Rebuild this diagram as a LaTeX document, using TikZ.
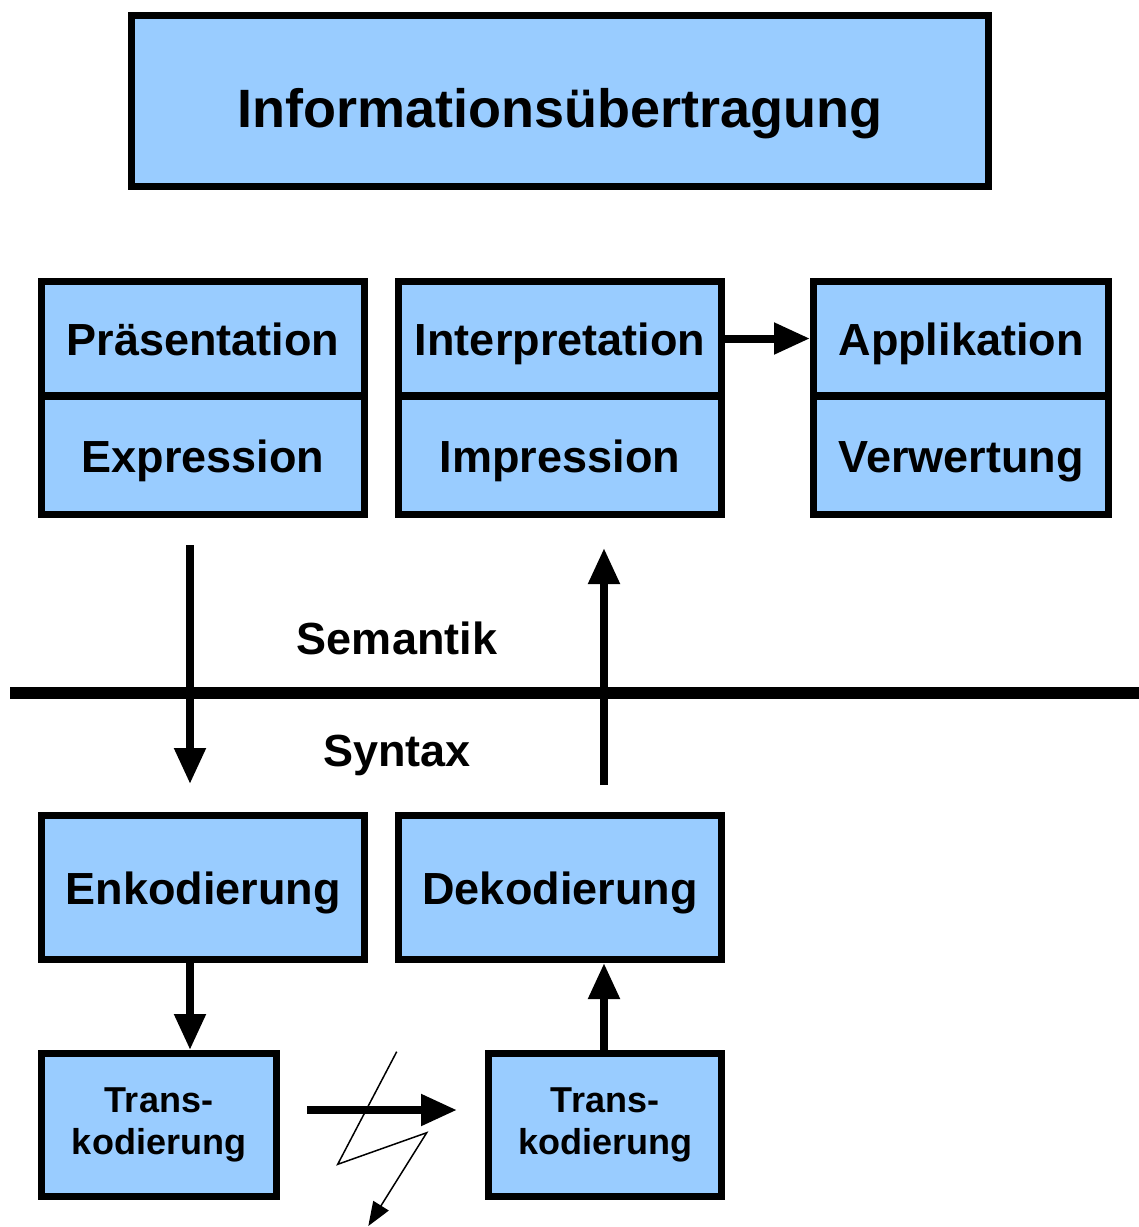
\documentclass[tikz,border=0pt]{standalone}
\usepackage{fontspec}
\setmainfont{Liberation Sans}
\usetikzlibrary{arrows.meta}
\definecolor{boxblue}{HTML}{99CCFF}
\tikzset{
  box/.style={draw=black, line width=7pt, fill=boxblue, inner sep=0pt,
    font=\bfseries\fontsize{45}{54}\selectfont, text height=33pt, text depth=0pt},
  smallbox/.style={draw=black, line width=7pt, fill=boxblue, inner sep=0pt,
    align=center, font=\bfseries\fontsize{36}{42}\selectfont},
  lbl/.style={inner sep=0pt, font=\bfseries\fontsize{45}{54}\selectfont,
    text height=33pt, text depth=0pt},
  arr/.style={line width=8pt, -{Triangle[length=36pt,width=30pt]}},
  bolt/.style={line width=1.5pt, line join=miter, -{Triangle[length=24pt,width=18pt]}},
}
\begin{document}
\begin{tikzpicture}[x=1pt,y=-1pt]
\useasboundingbox (0,0) rectangle (1139,1227);

% title
\node[box, minimum width=857pt, minimum height=171pt] (title) at (560,101) {};
\node[inner sep=0pt, font=\bfseries\fontsize{54}{60}\selectfont, text height=39pt, text depth=0pt]
  (titletext) at (560,108) {Informationsübertragung};

% semantic level
\node[box, minimum width=323pt, minimum height=114pt] (praes) at (203,338.5) {Präsentation};
\node[box, minimum width=323pt, minimum height=118pt] (expr) at (203,455.5) {Expression};
\node[box, minimum width=323pt, minimum height=114pt] (interp) at (560,338.5) {Interpretation};
\node[box, minimum width=323pt, minimum height=118pt] (impr) at (560,455.5) {Impression};
\node[box, minimum width=295pt, minimum height=114pt] (appl) at (961,338.5) {Applikation};
\node[box, minimum width=295pt, minimum height=118pt] (verw) at (961,455.5) {Verwertung};

\draw[arr] (interp.east) -- (appl.west);

% separator between semantics and syntax
\coordinate (sepL) at (10,693);
\coordinate (sepR) at (1139,693);
\draw[line width=12pt] (sepL) -- (sepR);
\node[lbl] (sem) at (397,638) {Semantik};
\node[lbl] (syn) at (397,750) {Syntax};

% syntactic level
\node[box, minimum width=323pt, minimum height=144pt] (enk) at (203,887.5) {Enkodierung};
\node[box, minimum width=323pt, minimum height=144pt] (dek) at (560,887.5) {Dekodierung};
\node[smallbox, minimum width=235pt, minimum height=143pt] (transL) at (159,1125) {Trans-\\kodierung};
\node[smallbox, minimum width=233pt, minimum height=143pt] (transR) at (605,1125) {Trans-\\kodierung};

% flow arrows
\coordinate (downA) at (190,545);
\coordinate (downB) at (190,784);
\draw[arr] (downA) -- (downB);
\coordinate (upA) at (604,785);
\coordinate (upB) at (604,548);
\draw[arr] (upA) -- (upB);
\coordinate (encOut) at (190,963);
\coordinate (transLIn) at (190,1050);
\draw[arr] (encOut) -- (transLIn);
\draw[arr] (transR.north -| upA) -- (dek.south -| upA);
\coordinate (chanA) at (307,1110);
\coordinate (chanB) at (457,1110);
\draw[arr] (chanA) -- (chanB);

% interference bolt
\coordinate (b1) at (396.7,1051.7);
\coordinate (b2) at (337.7,1164.3);
\coordinate (b3) at (426.7,1132.7);
\coordinate (b4) at (368.3,1226);
\draw[bolt] (b1) -- (b2) -- (b3) -- (b4);
\end{tikzpicture}
\end{document}
